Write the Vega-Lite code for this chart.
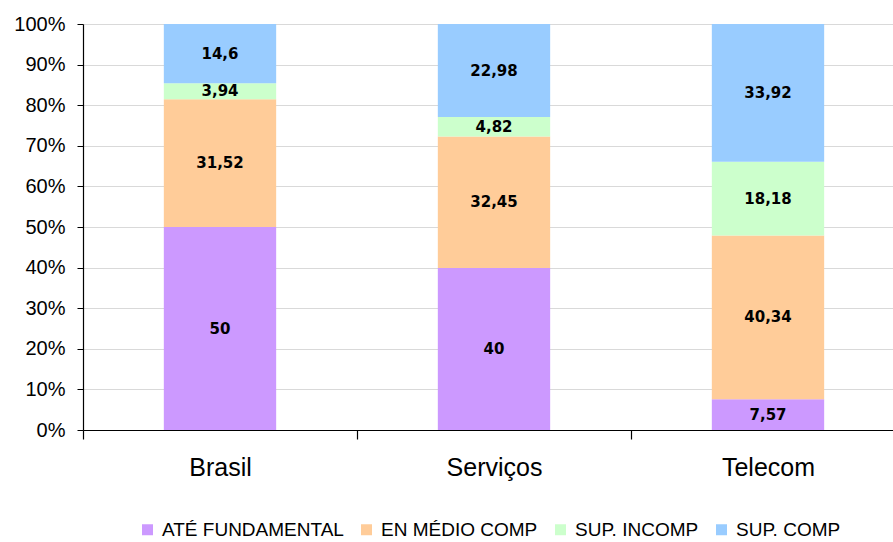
{
  "$schema": "https://vega.github.io/schema/vega-lite/v6.json",
  "autosize": "none",
  "width": 822,
  "height": 406,
  "padding": {"left": 83, "top": 24, "right": 0, "bottom": 112},
  "background": "white",
  "config": {
    "font": "Liberation Sans",
    "view": {"stroke": null},
    "locale": {"number": {"decimal": ",", "thousands": ".", "grouping": [3], "currency": ["R$", ""]}}
  },
  "data": {
    "values": [
      {"grupo": "Brasil", "cat": "ATÉ FUNDAMENTAL", "ord": 1, "v": 50},
      {"grupo": "Brasil", "cat": "EN MÉDIO COMP", "ord": 2, "v": 31.52},
      {"grupo": "Brasil", "cat": "SUP. INCOMP", "ord": 3, "v": 3.94},
      {"grupo": "Brasil", "cat": "SUP. COMP", "ord": 4, "v": 14.6},
      {"grupo": "Serviços", "cat": "ATÉ FUNDAMENTAL", "ord": 1, "v": 40},
      {"grupo": "Serviços", "cat": "EN MÉDIO COMP", "ord": 2, "v": 32.45},
      {"grupo": "Serviços", "cat": "SUP. INCOMP", "ord": 3, "v": 4.82},
      {"grupo": "Serviços", "cat": "SUP. COMP", "ord": 4, "v": 22.98},
      {"grupo": "Telecom", "cat": "ATÉ FUNDAMENTAL", "ord": 1, "v": 7.57},
      {"grupo": "Telecom", "cat": "EN MÉDIO COMP", "ord": 2, "v": 40.34},
      {"grupo": "Telecom", "cat": "SUP. INCOMP", "ord": 3, "v": 18.18},
      {"grupo": "Telecom", "cat": "SUP. COMP", "ord": 4, "v": 33.92}
    ]
  },
  "transform": [
    {"stack": "v", "groupby": ["grupo"], "sort": [{"field": "ord", "order": "ascending"}], "offset": "normalize", "as": ["y0", "y1"]},
    {"calculate": "(datum.y0 + datum.y1) / 2", "as": "ymid"}
  ],
  "encoding": {
    "x": {
      "field": "grupo", "type": "nominal", "sort": ["Brasil", "Serviços", "Telecom"],
      "scale": {"paddingInner": 0, "paddingOuter": 0},
      "axis": {
        "title": null, "labelAngle": 0, "labelFontSize": 25, "labelColor": "#000",
        "labelPadding": 16, "tickBand": "extent", "tickSize": 9, "tickColor": "#000",
        "domainColor": "#000", "tickWidth": 1.2, "domainWidth": 1.2
      }
    }
  },
  "layer": [
    {
      "mark": {"type": "bar", "width": {"band": 0.41}},
      "encoding": {
        "y": {
          "field": "y1", "type": "quantitative",
          "scale": {"domain": [0, 1]},
          "axis": {
            "title": null, "format": ".0%", "values": [0, 0.1, 0.2, 0.3, 0.4, 0.5, 0.6, 0.7, 0.8, 0.9, 1],
            "labelOverlap": false, "labelFontSize": 20, "labelColor": "#000", "labelPadding": 12,
            "tickSize": 6, "tickColor": "#000", "domainColor": "#000", "domainWidth": 1.2,
            "gridColor": "#d9d9d9", "gridWidth": 1
          }
        },
        "y2": {"field": "y0"},
        "color": {
          "field": "cat", "type": "nominal",
          "scale": {
            "domain": ["ATÉ FUNDAMENTAL", "EN MÉDIO COMP", "SUP. INCOMP", "SUP. COMP"],
            "range": ["#cc99ff", "#ffcc99", "#ccffcc", "#99ccff"]
          },
          "legend": {
            "title": null, "orient": "none", "direction": "horizontal",
            "legendX": 55, "legendY": 496,
            "symbolType": "square", "symbolSize": 121, "symbolStrokeWidth": 0,
            "labelFontSize": 19, "labelLimit": 0, "labelColor": "#000", "columnPadding": 13, "labelOffset": 5
          }
        }
      }
    },
    {
      "mark": {"type": "text", "font": "DejaVu Sans", "fontSize": 15, "fontWeight": "bold", "color": "#000"},
      "encoding": {
        "y": {"field": "ymid", "type": "quantitative"},
        "text": {"field": "v", "type": "quantitative", "format": "~r"}
      }
    }
  ]
}
